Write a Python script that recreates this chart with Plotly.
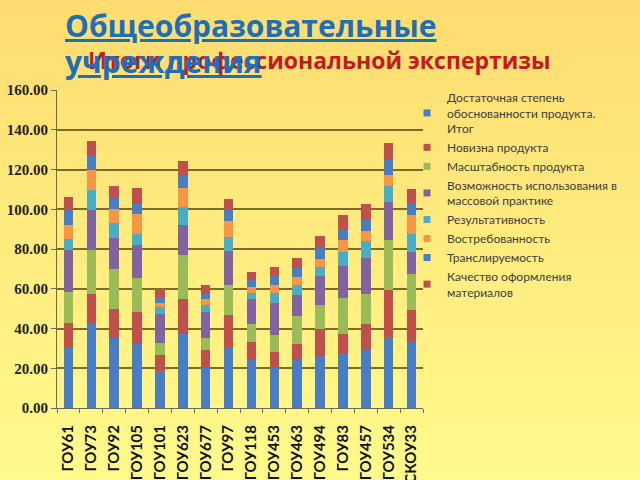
import plotly.graph_objects as go

categories = ["ГОУ61", "ГОУ73", "ГОУ92", "ГОУ105", "ГОУ101", "ГОУ623", "ГОУ677", "ГОУ97",
              "ГОУ118", "ГОУ453", "ГОУ463", "ГОУ494", "ГОУ83", "ГОУ457", "ГОУ534", "ГСКОУ33"]

series_names = [
    "Достаточная степень<br>обоснованности продукта.<br>Итог",
    "Новизна продукта",
    "Масштабность продукта",
    "Возможность использования в<br>массовой практике",
    "Результативность",
    "Востребованность",
    "Транслируемость",
    "Качество оформления<br>материалов",
]

s_obosnov = [30.3, 42.4, 35.0, 32.0, 18.6, 37.0, 20.3, 30.7, 24.5, 20.3, 24.0, 26.1, 27.0, 29.1, 35.7, 33.3]
s_novizna = [12.6, 15.2, 14.9, 16.2, 7.9, 17.6, 8.7, 16.0, 8.8, 8.0, 8.0, 13.4, 10.0, 13.3, 23.9, 15.9]
s_masshtab = [15.4, 22.1, 20.1, 17.0, 6.0, 22.3, 6.3, 15.1, 9.1, 8.4, 14.2, 12.3, 18.1, 15.2, 24.8, 18.0]
s_vozmozh = [21.4, 19.8, 15.3, 16.7, 14.6, 15.4, 12.9, 17.4, 12.2, 15.9, 10.6, 14.5, 16.6, 17.9, 19.1, 11.3]
s_rezult = [5.1, 10.4, 7.8, 5.9, 3.7, 8.7, 3.4, 6.7, 3.3, 5.3, 5.0, 4.6, 6.8, 8.4, 8.1, 9.1]
s_vostreb = [7.2, 10.0, 7.1, 9.8, 2.1, 9.7, 3.0, 8.1, 2.9, 3.8, 4.2, 4.3, 5.9, 5.4, 5.8, 9.7]
s_translir = [7.5, 6.7, 5.5, 5.1, 2.9, 5.9, 3.3, 5.5, 3.4, 5.0, 4.5, 5.4, 5.7, 5.5, 7.9, 5.9]
s_kachestvo = [6.7, 7.6, 5.9, 7.9, 4.2, 7.5, 3.9, 5.7, 4.3, 4.3, 5.0, 5.8, 7.2, 7.9, 8.0, 7.2]

series_values = [s_obosnov, s_novizna, s_masshtab, s_vozmozh, s_rezult, s_vostreb, s_translir, s_kachestvo]
colors = ["#4A7EC4", "#C0504D", "#9BBB59", "#8064A2", "#4BACC6", "#F79646", "#4A7EC4", "#C0504D"]

y_ticks = [0, 20, 40, 60, 80, 100, 120, 140, 160]

# plot area in pixels (for placing texts in paper coordinates)
PL, PR, PT, PB = 57, 423, 90, 408


def px(x):
    return (x - PL) / (PR - PL)


def py(y):
    return (PB - y) / (PB - PT)


fig = go.Figure()
for name, vals, col in zip(series_names, series_values, colors):
    fig.add_trace(go.Bar(x=categories, y=vals, name=name, showlegend=False,
                         marker=dict(color=col, line=dict(width=0))))
# small square legend keys
for name, col in zip(series_names, colors):
    fig.add_trace(go.Scatter(x=[None], y=[None], mode="markers", name=name,
                             marker=dict(symbol="square", size=7, color=col)))

# vertical gradient background
shapes = []
n = 60
top = (254, 220, 112)
bot = (255, 250, 140)
for i in range(n):
    t = i / (n - 1)
    c = tuple(round(top[k] + (bot[k] - top[k]) * t) for k in range(3))
    y1 = py(i * 480 / n - 1)
    y0 = py((i + 1) * 480 / n + 1)
    shapes.append(dict(type="rect", xref="paper", yref="paper", layer="below",
                       x0=px(-5), x1=px(645), y0=y0, y1=y1,
                       line=dict(width=0), fillcolor="rgb(%d,%d,%d)" % c))

fig.update_layout(
    width=640, height=480,
    barmode="stack", bargap=0.58,
    paper_bgcolor="#FFE67F", plot_bgcolor="rgba(0,0,0,0)",
    margin=dict(l=PL, r=640 - PR, t=PT, b=480 - PB, autoexpand=False),
    shapes=shapes,
    showlegend=True,
    legend=dict(xref="container", yref="container", x=0.636, y=0.827, xanchor="left", yanchor="top",
                bgcolor="rgba(0,0,0,0)", font=dict(family="Lato", size=12, color="#404040"),
                itemwidth=30, tracegroupgap=0, traceorder="normal"),
    font=dict(family="Lato"),
)
fig.update_xaxes(showline=True, linecolor="#6B6B5B", linewidth=1, ticks="outside", tickson="boundaries",
                 ticklen=4, tickcolor="#6B6B5B", tickangle=-90, ticklabelstandoff=10,
                 tickfont=dict(family="Lato", size=15, color="#111", weight="bold"), showgrid=False)
fig.update_yaxes(range=[0, 160], tickvals=y_ticks, tickformat=".2f", showline=True, linecolor="#6B6B5B",
                 linewidth=1, ticks="outside", ticklen=5, tickcolor="#6B6B5B",
                 showgrid=True, gridcolor="#7E6B2A", gridwidth=1.5,
                 tickfont=dict(family="Liberation Serif", size=15, color="#222", weight="bold"), zeroline=False)

fig.add_annotation(xref="paper", yref="paper", x=px(553), y=py(78), xanchor="right", yanchor="bottom",
                   text="<b>Итоги профессиональной экспертизы</b>", showarrow=False,
                   font=dict(family="Open Sans", size=23, color="#C8171E"))
fig.add_annotation(xref="paper", yref="paper", x=px(63), y=py(84), xanchor="left", yanchor="bottom",
                   text="<b><u>учреждения</u></b>", showarrow=False,
                   font=dict(family="Open Sans", size=30, color="#1F6EB8"))
fig.add_annotation(xref="paper", yref="paper", x=px(63), y=py(48), xanchor="left", yanchor="bottom",
                   text="<b><u>Общеобразовательные</u></b>", showarrow=False,
                   font=dict(family="Open Sans", size=30, color="#1F6EB8"))

fig.write_html("out.html")
